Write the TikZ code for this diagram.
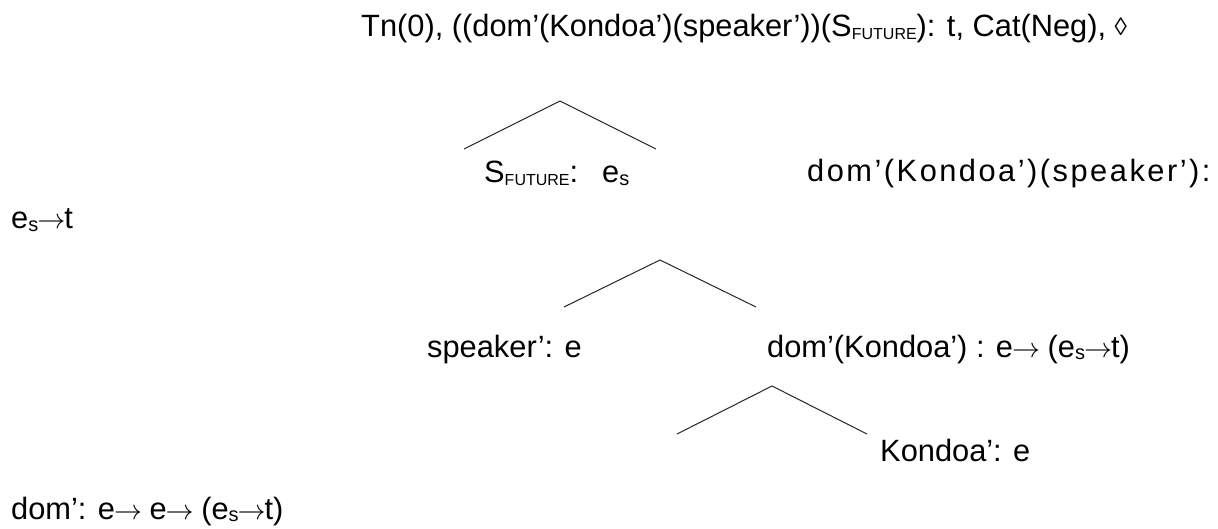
\documentclass[tikz,border=0pt]{standalone}
\usepackage{graphicx}
\usepackage{fontspec}
\setmainfont{Liberation Sans}
\newcommand\sbs[2][20]{\raisebox{-2.5pt}{\fontsize{#1}{#1}\selectfont #2}}
\newcommand\arr{\kern-1pt{\fontsize{10}{12}\selectfont\scalebox{2.8}{$\rightarrow$}}\kern-1pt}
\let\lspEnd\relax
\def\lsp#1{\lspA#1\lspEnd}
\def\lspA#1{\ifx#1\lspEnd\else#1\hskip2.5pt\expandafter\lspA\fi}
\begin{document}
\begin{tikzpicture}[x=1pt,y=-1pt,
  txt/.style={font=\fontsize{30.8}{37}\selectfont, inner sep=0pt, anchor=base west},
  branch/.style={draw=black!85, line width=1pt}]
\useasboundingbox (0,0) rectangle (1218,529);
% texts
\node[txt] (root) at (361,37) {Tn(0), ((dom’(Kondoa’)(speaker’))(S\sbs[16]{FUTURE}): t, Cat(Neg), \raisebox{1pt}{\fontsize{25}{25}\selectfont ◊}};
\node[txt] (sfut) at (484,183) {S\sbs[16]{FUTURE}:\hspace{24pt}e\sbs{s}};
\node[txt] (pred) at (807,182) {\lsp{dom’(Kondoa’)(speaker’):}};
\node[txt] (predty) at (11,229) {e\sbs{s}\arr t};
\node[txt] (spk) at (427,357) {speaker’: e};
\node[txt] (domk) at (767,357) {dom’(Kondoa’) : e\arr{} (e\sbs{s}\arr t)};
\node[txt] (kon) at (880,461) {Kondoa’: e};
\node[txt] (dom) at (11,519) {dom’: e\arr{} e\arr{} (e\sbs{s}\arr t)};
% branch coordinates
\coordinate (a1) at (560,101);
\coordinate (l1) at (464,149);
\coordinate (r1) at (656,149);
\coordinate (a2) at (660,260);
\coordinate (l2) at (564,307);
\coordinate (r2) at (756,307);
\coordinate (a3) at (772,386);
\coordinate (l3) at (677,434);
\coordinate (r3) at (867,434);
\draw[branch] (l1) -- (a1) -- (r1);
\draw[branch] (l2) -- (a2) -- (r2);
\draw[branch] (l3) -- (a3) -- (r3);
\end{tikzpicture}
\end{document}
